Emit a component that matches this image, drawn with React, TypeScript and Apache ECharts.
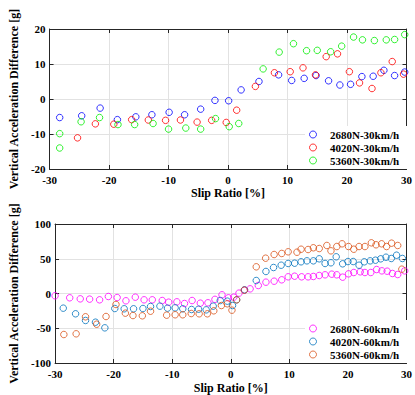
import React, { useEffect, useRef } from "react";
import * as echarts from "echarts";

// Top plot (30 km/h): [slip ratio %, vertical acceleration difference g]
const s2680N30: [number, number][] = [
  [-28.3, -5.3], [-24.6, -4.8], [-21.5, -2.6], [-18.6, -5.9], [-15.5, -5.1], [-12.8, -4.5],
  [-9.9, -3.8], [-7.3, -4.5], [-4.6, -2.9], [-2.2, -0.4], [0.1, -0.5], [2.2, 2.6], [5.2, 5.0],
  [8.5, 6.9], [10.7, 5.3], [12.8, 5.9], [14.8, 6.7], [16.9, 5.2], [18.8, 4.0], [20.6, 4.2],
  [22.5, 6.4], [24.4, 6.5], [26.2, 8.2], [28.0, 6.7], [29.7, 7.7],
];
const s4020N30: [number, number][] = [
  [-25.3, -11.1], [-22.3, -7.1], [-19.2, -7.2], [-16.2, -5.9], [-13.4, -6.0], [-10.5, -6.1],
  [-8.0, -6.0], [-5.2, -6.6], [-2.75, -6.1], [-0.3, -6.7], [1.45, -3.2], [4.6, 3.6], [7.8, 7.5],
  [10.45, 7.8], [12.6, 8.9], [14.7, 6.9], [16.5, 12.1], [18.4, 12.9], [20.4, 7.8], [22.1, 4.6],
  [24.2, 3.0], [25.7, 7.5], [27.6, 10.7], [29.5, 7.1],
];
const s5360N30: [number, number][] = [
  [-28.3, -9.9], [-28.3, -14.0], [-24.7, -6.5], [-21.6, -5.3], [-18.5, -7.3], [-15.7, -7.3],
  [-12.6, -7.0], [-10.0, -8.6], [-7.1, -8.3], [-4.6, -8.6], [-2.1, -5.6], [0.2, -7.9], [1.8, -7.0],
  [5.9, 8.6], [8.6, 13.4], [11.0, 15.8], [13.2, 13.8], [15.0, 13.9], [17.25, 13.5], [19.1, 15.1],
  [21.1, 17.7], [22.6, 16.9], [24.6, 16.7], [26.6, 16.9], [28.0, 17.0], [29.7, 18.4],
];

// Bottom plot (60 km/h)
const s2680N60: [number, number][] = [
  [-30.0, -3.3], [-27.5, -6.2], [-25.7, -7.7], [-24.1, -8.1], [-22.4, -9.1], [-20.9, -4.3],
  [-19.4, -5.8], [-17.9, -10.5], [-16.3, -5.3], [-14.8, -9.1], [-13.4, -9.1], [-11.7, -10.1],
  [-10.6, -12.5], [-9.2, -12.0], [-7.9, -14.4], [-6.6, -10.1], [-5.2, -13.9], [-3.9, -13.4],
  [-2.7, -8.4], [-1.5, -1.9], [-0.4, -6.2], [0.5, -5.3], [1.4, 0.5], [2.35, 4.8], [3.3, 6.7],
  [4.7, 11.5], [6.0, 16.3], [7.4, 17.7], [8.7, 19.7], [9.8, 24.0], [10.9, 24.9], [12.1, 24.0],
  [13.2, 24.0], [14.1, 24.5], [15.1, 25.9], [16.1, 26.9], [17.25, 27.8], [18.1, 26.9],
  [19.1, 23.5], [20.1, 28.3], [21.0, 30.2], [22.1, 31.2], [22.9, 30.2], [23.9, 30.2],
  [24.9, 34.5], [25.8, 32.6], [26.7, 32.1], [27.6, 28.8], [28.5, 27.3], [29.7, 32.6],
];
const s4020N60: [number, number][] = [
  [-28.6, -21.1], [-26.5, -29.2], [-24.8, -38.8], [-23.1, -41.3], [-21.5, -49.4], [-19.8, -21.6],
  [-18.2, -22.0], [-16.6, -22.0], [-15.0, -21.6], [-13.7, -18.7], [-12.1, -18.2], [-10.8, -21.1],
  [-9.5, -20.6], [-8.2, -22.0], [-6.7, -23.0], [-5.5, -22.6], [-4.2, -23.5], [-3.0, -18.2],
  [-1.8, -10.1], [-0.6, -11.0], [0.3, -17.3], [1.0, -9.1], [2.35, 5.3], [4.35, 18.7], [6.0, 31.7],
  [7.3, 37.4], [8.6, 40.7], [9.8, 43.2], [10.9, 43.6], [12.0, 45.6], [13.0, 47.0], [14.1, 47.0],
  [15.1, 49.9], [16.1, 43.2], [17.1, 44.2], [18.0, 52.8], [19.1, 42.7], [20.0, 46.0], [20.9, 46.0],
  [21.9, 40.7], [22.8, 45.6], [23.8, 47.0], [24.7, 47.9], [25.6, 49.9], [26.5, 52.2], [27.4, 50.4],
  [28.3, 55.1], [29.3, 50.4],
];
const s5360N60: [number, number][] = [
  [-28.5, -59.0], [-26.4, -58.0], [-24.8, -33.5], [-22.9, -44.2], [-21.3, -33.1], [-19.6, -15.8],
  [-18.0, -28.3], [-16.7, -31.7], [-15.1, -32.1], [-13.7, -25.5], [-10.95, -31.2], [-9.5, -30.6],
  [-8.2, -30.6], [-6.75, -28.8], [-5.4, -29.2], [-4.0, -29.2], [-2.9, -24.9], [-1.6, -17.3],
  [-0.6, -14.8], [0.2, -24.0], [1.0, -9.1], [2.3, 4.8], [4.35, 38.4], [5.95, 50.8], [7.4, 56.1],
  [8.7, 57.6], [9.8, 60.0], [11.3, 59.4], [12.0, 63.7], [13.2, 63.3], [14.1, 65.8], [15.1, 64.7],
  [16.4, 69.1], [17.1, 61.4], [18.1, 67.6], [19.0, 71.5], [20.1, 67.6], [21.0, 63.7], [21.9, 67.6],
  [22.9, 67.6], [24.0, 72.9], [24.8, 70.1], [25.75, 71.5], [26.6, 67.6], [27.45, 72.4],
  [28.5, 69.1], [29.2, 35.0],
];

const topNames = ["2680N-30km/h", "4020N-30km/h", "5360N-30km/h"];
const bottomNames = ["2680N-60km/h", "4020N-60km/h", "5360N-60km/h"];
const topColors = ["#0000ff", "#ff0000", "#00ee00"];
const bottomColors = ["#ff00ff", "#0072bd", "#d95319"];

const xName = "Slip Ratio [%]";
const yName = "Vertical Acceleration Difference [g]";

const FONT = "'Liberation Serif', 'Times New Roman', serif";
const AXIS = "#262626";
const GRIDC = "#e2e2e2";

export default function App() {
  const ref = useRef<HTMLDivElement>(null);

  useEffect(() => {
    if (!ref.current) return;
    const chart = echarts.init(ref.current, undefined, { renderer: "svg" });

    const grids = [
      { left: 38, top: 29, width: 371, height: 140 },
      { left: 38, top: 224, width: 371, height: 139 },
    ];

    const labelStyle = {
      fontFamily: FONT,
      fontWeight: "bold" as const,
      fontSize: 11,
      color: "#000",
    };
    const nameStyle = {
      fontFamily: FONT,
      fontWeight: "bold" as const,
      fontSize: 12,
      color: "#000",
    };

    const mainX = (gi: number, gap: number) => ({
      type: "value",
      gridIndex: gi,
      min: -30,
      max: 30,
      interval: 10,
      position: "bottom",
      name: xName,
      nameLocation: "middle",
      nameGap: gap,
      nameTextStyle: nameStyle,
      axisLine: { show: true, onZero: false, lineStyle: { color: AXIS, width: 1 } },
      axisTick: { show: true, inside: true, length: 4, lineStyle: { color: AXIS } },
      axisLabel: { ...labelStyle, margin: 5 },
      splitLine: { show: true, lineStyle: { color: GRIDC, width: 1 } },
    });
    const secX = (gi: number) => ({
      type: "value",
      gridIndex: gi,
      min: -30,
      max: 30,
      interval: 10,
      position: "top",
      axisLine: { show: true, onZero: false, lineStyle: { color: AXIS, width: 1 } },
      axisTick: { show: true, inside: true, length: 4, lineStyle: { color: AXIS } },
      axisLabel: { show: false },
      splitLine: { show: false },
    });
    const mainY = (gi: number, min: number, max: number, interval: number) => ({
      type: "value",
      gridIndex: gi,
      min,
      max,
      interval,
      position: "left",
      name: yName,
      nameLocation: "middle",
      nameGap: 24,
      nameTextStyle: nameStyle,
      axisLine: { show: true, onZero: false, lineStyle: { color: AXIS, width: 1 } },
      axisTick: { show: true, inside: true, length: 4, lineStyle: { color: AXIS } },
      axisLabel: { ...labelStyle, margin: 4 },
      splitLine: { show: true, lineStyle: { color: GRIDC, width: 1 } },
    });
    const secY = (gi: number, min: number, max: number, interval: number) => ({
      type: "value",
      gridIndex: gi,
      min,
      max,
      interval,
      position: "right",
      axisLine: { show: true, onZero: false, lineStyle: { color: AXIS, width: 1 } },
      axisTick: { show: true, inside: true, length: 4, lineStyle: { color: AXIS } },
      axisLabel: { show: false },
      splitLine: { show: false },
    });

    const mk = (name: string, data: [number, number][], color: string, axisIdx: number) => ({
      type: "scatter",
      name,
      data,
      xAxisIndex: axisIdx,
      yAxisIndex: axisIdx,
      symbol: "circle",
      symbolSize: 6.5,
      itemStyle: { color: "rgba(255,255,255,0)", borderColor: color, borderWidth: 1 },
      emphasis: { disabled: true },
    });

    const legendBase = {
      orient: "vertical",
      left: 305,
      itemWidth: 24,
      itemHeight: 7,
      itemGap: 2,
      padding: [3, 10, 3, 4],
      backgroundColor: "#ffffff",
      textStyle: { ...labelStyle, lineHeight: 11 },
      selectedMode: false,
    };

    chart.setOption({
      animation: false,
      backgroundColor: "#ffffff",
      grid: grids,
      xAxis: [mainX(0, 18), mainX(1, 19), secX(0), secX(1)],
      yAxis: [
        mainY(0, -20, 20, 10),
        mainY(1, -100, 100, 50),
        secY(0, -20, 20, 10),
        secY(1, -100, 100, 50),
      ],
      legend: [
        {
          ...legendBase,
          top: 126,
          data: topNames.map((n, i) => ({
            name: n,
            itemStyle: { color: "rgba(255,255,255,0)", borderColor: topColors[i], borderWidth: 1 },
          })),
        },
        {
          ...legendBase,
          top: 320,
          data: bottomNames.map((n, i) => ({
            name: n,
            itemStyle: { color: "rgba(255,255,255,0)", borderColor: bottomColors[i], borderWidth: 1 },
          })),
        },
      ],
      series: [
        mk(topNames[0], s2680N30, topColors[0], 0),
        mk(topNames[1], s4020N30, topColors[1], 0),
        mk(topNames[2], s5360N30, topColors[2], 0),
        mk(bottomNames[0], s2680N60, bottomColors[0], 1),
        mk(bottomNames[1], s4020N60, bottomColors[1], 1),
        mk(bottomNames[2], s5360N60, bottomColors[2], 1),
      ],
    });

    return () => chart.dispose();
  }, []);

  return (
    <div
      ref={ref}
      style={{ position: "fixed", left: 0, top: 0, width: 415, height: 395, background: "#fff" }}
    />
  );
}
